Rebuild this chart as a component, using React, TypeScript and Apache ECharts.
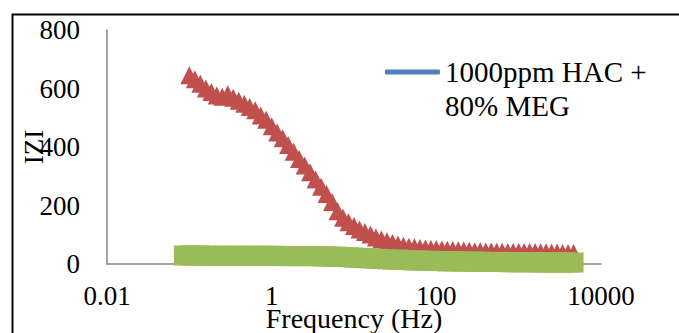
import { useEffect, useRef } from "react";
import * as echarts from "echarts";

// Frequency sweep (Hz), 15 points per decade
const frequencies = [
  0.0858, 0.1, 0.1166, 0.1359, 0.1585, 0.1848, 0.2154, 0.2512, 0.2929, 0.3415,
  0.3981, 0.4642, 0.5412, 0.631, 0.7356, 0.8577,
  1, 1.166, 1.359, 1.585, 1.848, 2.154, 2.512, 2.929, 3.415, 3.981,
  4.642, 5.412, 6.31, 7.356, 8.577,
  10, 11.66, 13.59, 15.85, 18.48, 21.54, 25.12, 29.29, 34.15, 39.81,
  46.42, 54.12, 63.1, 73.56, 85.77,
  100, 116.6, 135.9, 158.5, 184.8, 215.4, 251.2, 292.9, 341.5, 398.1,
  464.2, 541.2, 631, 735.6, 857.7,
  1000, 1166, 1359, 1585, 1848, 2154, 2512, 2929, 3415, 3981, 4642,
];

// |Z| of the red (triangle) series; null where no point was measured
const redValues = [
  null, 645, 632, 616, 600, 588, 576, 572, 580, 568,
  558, 548, 537, 526, 508, 493,
  471, 450, 430, 407, 384, 359, 337, 314, 289, 264,
  239, 212, 180, 158, 143,
  130, 118, 109, 101, 91, 84, 78, 72, 67, 62,
  59, 57, 55, 53, 52,
  51, 50, 49, 48, 47, 46, 45, 44, 44, 43,
  43, 42, 42, 41, 41,
  41, 41, 41, 41, 40, 40, 39, 39, 38, 38, 38,
];

// |Z| of the green (square) series
const greenValues = [
  29, 29, 29, 29, 28, 28, 28, 28, 28, 28,
  28, 28, 28, 28, 28, 28,
  28, 28, 27, 27, 27, 27, 27, 27, 27, 26,
  26, 25, 25, 24, 23,
  22, 21, 20, 19, 18, 17, 16, 15, 15, 14,
  13, 12, 12, 11, 11,
  10, 10, 9, 9, 9, 8, 8, 8, 8, 7,
  7, 7, 7, 6, 6,
  6, 6, 6, 6, 5, 5, 5, 5, 5, 5, 5,
];

// The blue series only appears in the legend (no visible marks)
const blueValues: number[] = [];

const legendLabel = "\n1000ppm HAC +\n80% MEG";
const seriesName = "1000ppm HAC + 80% MEG";
const xTickLabels = ["0.01", "1", "100", "10000"];
const yTickLabels = ["0", "200", "400", "600", "800"];

const FONT = "Liberation Serif";

export default function App() {
  const ref = useRef<HTMLDivElement>(null);

  useEffect(() => {
    if (!ref.current) return;
    const chart = echarts.init(ref.current, undefined, { renderer: "svg" });

    const redData = frequencies
      .map((f, i) => [f, redValues[i]])
      .filter((d) => d[1] !== null);
    const greenData = frequencies.map((f, i) => [f, greenValues[i]]);

    chart.setOption({
      animation: false,
      backgroundColor: "#ffffff",
      textStyle: { fontFamily: FONT, color: "#000" },
      grid: {
        left: 107,
        right: 78,
        top: 30,
        bottom: 69,
        containLabel: false,
        outerBoundsMode: "none",
      },
      legend: {
        data: [{ name: seriesName, icon: "roundRect" }],
        left: 385,
        top: 21,
        padding: 0,
        itemWidth: 55,
        itemHeight: 5,
        formatter: () => legendLabel,
        textStyle: {
          fontFamily: FONT,
          fontSize: 29,
          color: "#000",
          lineHeight: 34,
        },
      },
      xAxis: {
        type: "log",
        logBase: 10,
        min: 0.01,
        max: 10000,
        name: "Frequency (Hz)",
        nameLocation: "middle",
        nameGap: 40,
        nameMoveOverlap: false,
        nameTextStyle: { fontFamily: FONT, fontSize: 28, color: "#000" },
        axisLine: { show: true, lineStyle: { color: "#868686", width: 1.5 } },
        axisTick: { show: false },
        splitLine: { show: false },
        minorSplitLine: { show: false },
        axisLabel: {
          fontFamily: FONT,
          fontSize: 27,
          color: "#000",
          margin: 18,
          formatter: (v: number) => {
            const e = Math.round(Math.log10(v));
            if (e % 2 === 0) {
              const idx = (e + 2) / 2;
              return xTickLabels[idx] ?? "";
            }
            return "";
          },
        },
      },
      yAxis: {
        type: "value",
        min: 0,
        max: 800,
        interval: 200,
        name: "IZI",
        nameLocation: "middle",
        nameRotate: 90,
        nameGap: 60,
        nameMoveOverlap: false,
        nameTextStyle: { fontFamily: FONT, fontSize: 27, color: "#000" },
        axisLine: { show: true, lineStyle: { color: "#868686", width: 1.5 } },
        axisTick: { show: false },
        splitLine: { show: false },
        axisLabel: {
          fontFamily: FONT,
          fontSize: 27,
          color: "#000",
          margin: 27,
          formatter: (v: number) => yTickLabels[Math.round(v / 200)] ?? "",
        },
      },
      series: [
        {
          name: seriesName,
          type: "line",
          data: blueValues,
          showSymbol: false,
          itemStyle: { color: "#4F81BD" },
          lineStyle: { color: "#4F81BD", width: 4 },
        },
        {
          name: "red",
          type: "scatter",
          symbol: "triangle",
          symbolSize: 18,
          itemStyle: { color: "#C0504D", opacity: 1 },
          data: redData,
          z: 3,
        },
        {
          name: "green",
          type: "scatter",
          symbol: "rect",
          symbolSize: 20,
          itemStyle: { color: "#9BBB59", opacity: 1 },
          data: greenData,
          z: 4,
        },
      ],
      graphic: [
        {
          type: "rect",
          left: 10,
          top: 12,
          shape: { x: 0, y: 0, width: 720, height: 400 },
          style: { fill: "none", stroke: "#000", lineWidth: 2 },
          silent: true,
        },
      ],
    });

    return () => chart.dispose();
  }, []);

  return (
    <div
      ref={ref}
      style={{ position: "fixed", left: 0, top: 0, width: 679, height: 333 }}
    />
  );
}
